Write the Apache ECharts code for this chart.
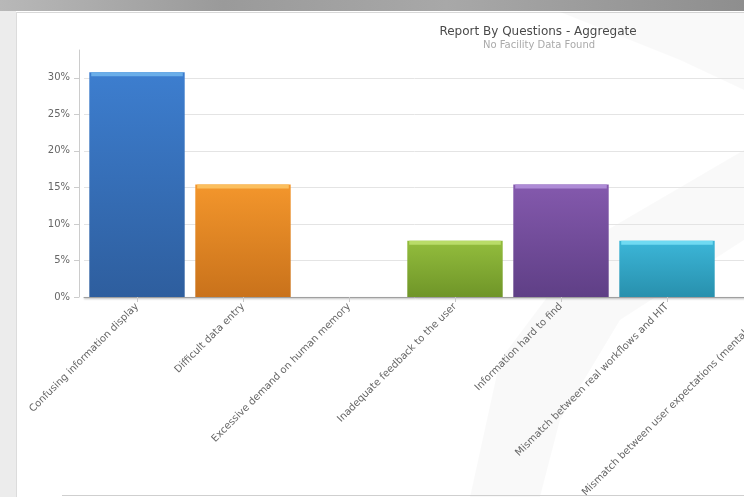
<!DOCTYPE html>
<html>
<head>
<meta charset="utf-8">
<style>
html,body{margin:0;padding:0;background:#fff;}
#chart{width:744px;height:497px;}
</style>
<script src="https://cdn.jsdelivr.net/npm/echarts@6/dist/echarts.min.js"></script>
</head>
<body>
<div id="chart"></div>
<script>
const categories = [
  'Confusing information display',
  'Difficult data entry',
  'Excessive demand on human memory',
  'Inadequate feedback to the user',
  'Information hard to find',
  'Mismatch between real workflows and HIT',
  'Mismatch between user expectations (mental model)'
];
const percentValues = [30.77, 15.38, 0, 7.69, 15.38, 7.69, 0];
const yTicks = [0, 5, 10, 15, 20, 25, 30];
const chartTitle = 'Report By Questions - Aggregate';
const chartSubtitle = 'No Facility Data Found';

const palette = [
  ['#3d7ecf', '#2e5e9e', '#6aaee9'],
  ['#f3962c', '#c9721b', '#fbbf5e'],
  ['#7a9bd0', '#5a7bb0', '#9fbfe8'],
  ['#93bd3d', '#6f9528', '#b9dc68'],
  ['#8459ad', '#5f3f86', '#ae8bd6'],
  ['#3cb6d8', '#2890ad', '#70daf2'],
  ['#3d7ecf', '#2e5e9e', '#6aaee9']
];

function grad(c) {
  return new echarts.graphic.LinearGradient(0, 0, 0, 1, [
    {offset: 0, color: c[0]},
    {offset: 1, color: c[1]}
  ]);
}

const barData = percentValues.map((v, i) => ({
  value: v,
  itemStyle: {color: grad(palette[i])}
}));
const capData = percentValues.map((v, i) => (v > 0 ? {
  value: v,
  itemStyle: {color: palette[i][2]}
} : '-'));

const yMax = 33.8;
const splitColors = yTicks.map(() => '#e4e4e4').concat(['rgba(0,0,0,0)']);

const chart = echarts.init(document.getElementById('chart'));
chart.setOption({
  animation: false,
  backgroundColor: '#ffffff',
  graphic: [
    {type: 'rect', z: -10, silent: true, shape: {x: 0, y: 0, width: 744, height: 11},
      style: {fill: new echarts.graphic.LinearGradient(0, 0, 1, 0, [
        {offset: 0, color: '#b8b8b8'}, {offset: 0.3, color: '#9a9a9a'},
        {offset: 0.6, color: '#a8a8a8'}, {offset: 1, color: '#8e8e8e'}])}},
    {type: 'rect', z: -10, silent: true, shape: {x: 0, y: 11, width: 16, height: 486},
      style: {fill: '#ececec'}},
    {type: 'line', z: -9, silent: true, shape: {x1: 16, y1: 12.5, x2: 744, y2: 12.5},
      style: {stroke: '#d8d8d8', lineWidth: 1}},
    {type: 'line', z: -9, silent: true, shape: {x1: 16.5, y1: 12, x2: 16.5, y2: 497},
      style: {stroke: '#dcdcdc', lineWidth: 1}},
    {type: 'polygon', z: -9, silent: true,
      shape: {points: [[470, 497], [500, 360], [590, 240], [744, 150], [744, 240], [620, 320], [560, 420], [540, 497]]},
      style: {fill: 'rgba(0,0,0,0.025)'}},
    {type: 'polygon', z: -9, silent: true,
      shape: {points: [[560, 12], [744, 12], [744, 90], [680, 60]]},
      style: {fill: 'rgba(0,0,0,0.025)'}},
    {type: 'line', z: -9, silent: true, shape: {x1: 62, y1: 495.5, x2: 744, y2: 495.5},
      style: {stroke: '#cfcfcf', lineWidth: 1}},
    {type: 'text', z: 10, x: 538, y: 32, style: {text: chartTitle, fill: '#4a4a4a',
      font: '12px "DejaVu Sans"', textAlign: 'center', textVerticalAlign: 'middle'}},
    {type: 'text', z: 10, x: 539, y: 45, style: {text: chartSubtitle, fill: '#aaaaaa',
      font: '10px "DejaVu Sans"', textAlign: 'center', textVerticalAlign: 'middle'}}
  ],
  grid: {left: 84, top: 50, right: -82, height: 247, containLabel: false, outerBoundsMode: 'none'},
  xAxis: {
    type: 'category',
    data: categories,
    axisLine: {lineStyle: {color: '#a0a0a0', width: 1, shadowColor: 'rgba(0,0,0,0.35)', shadowBlur: 2, shadowOffsetY: 1}},
    axisTick: {show: true, alignWithLabel: true, length: 5, lineStyle: {color: '#c8c8c8'}},
    axisLabel: {interval: 0, rotate: 45, margin: 8, fontSize: 10, color: '#666666', fontFamily: 'DejaVu Sans', hideOverlap: false}
  },
  yAxis: {
    type: 'value',
    min: 0, max: yMax, interval: 5,
    offset: 5,
    axisLine: {show: true, lineStyle: {color: '#cccccc'}},
    axisTick: {show: true, length: 5, lineStyle: {color: '#cccccc'}},
    axisLabel: {formatter: '{value}%', showMaxLabel: false, fontSize: 10, color: '#666666', margin: 9, fontFamily: 'DejaVu Sans'},
    splitLine: {show: true, lineStyle: {color: splitColors, width: 1}}
  },
  series: [
    {type: 'bar', data: barData, barWidth: '90%'},
    {type: 'pictorialBar', data: capData, barWidth: '90%', symbol: 'rect',
      symbolSize: ['96%', 4], symbolPosition: 'end', symbolOffset: [0, 0], z: 5}
  ]
});
</script>
</body>
</html>
